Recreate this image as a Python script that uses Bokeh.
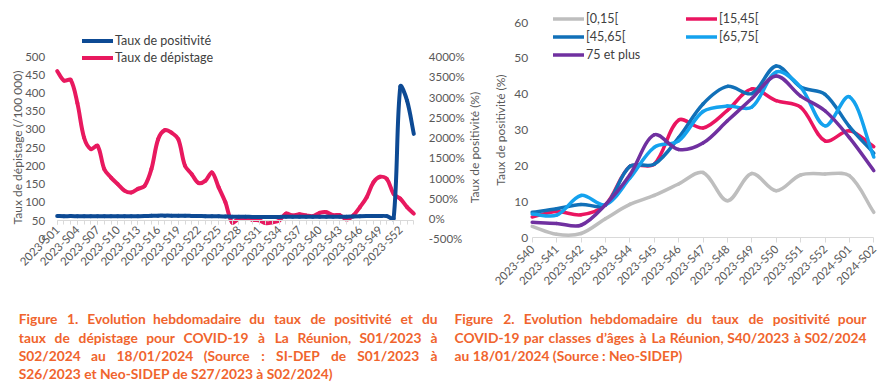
import math
from bokeh.plotting import figure
from bokeh.models import Range1d, LinearAxis, FixedTicker, Legend, LegendItem, Label
from bokeh.layouts import row, column
from bokeh.embed import file_html
from bokeh.resources import INLINE
from bokeh.core.properties import value

FONT = "Lato"
TXT = "#595959"

# ---------------- Figure 1 data ----------------
weeks_fig1 = ["2023-S%02d" % i for i in range(1, 53)] + ["2024-S01", "2024-S02"]
depistage = [460, 434, 436, 372, 277, 246, 255, 191, 168, 150,
             132, 127, 137, 145, 191, 273, 298, 291, 273, 200,
             177, 153, 159, 182, 141, 100, 45, 55, 57, 52,
             51, 43, 45, 50, 69, 64, 67, 64, 62, 71,
             73, 65, 65, 53, 64, 87, 114, 155, 170, 164,
             123, 110, 87, 69]
positivite = [62, 58, 60, 57, 55, 55, 55, 55, 55, 55,
              55, 55, 57, 60, 68, 72, 72, 72, 70, 68,
              65, 62, 58, 55, 55, 50, 45, 45, 45, 40,
              40, 40, 40, 40, 45, 45, 45, 45, 45, 45,
              45, 45, 45, 45, 50, 55, 60, 65, 65, 60,
              0, 3260, 2910, 2090]
dep_ticks = list(range(0, 501, 50))
pos_ticks = list(range(-500, 4001, 500))
pos_tick_labels = ["%d%%" % v for v in pos_ticks]
fig1_series = ["Taux de positivité", "Taux de dépistage"]
fig1_colors = ["#0D4A94", "#E8195F"]

# ---------------- Figure 2 data ----------------
weeks_fig2 = ["2023-S40", "2023-S41", "2023-S42", "2023-S43", "2023-S44", "2023-S45",
              "2023-S46", "2023-S47", "2023-S48", "2023-S49", "2023-S50", "2023-S51",
              "2023-S52", "2024-S01", "2024-S02"]
age_classes = ["[0,15[", "[15,45[", "[45,65[", "[65,75[", "75 et plus"]
pos_0_15 = [3.2, 1.0, 1.2, 5.3, 9.3, 11.8, 15.0, 18.2, 10.3, 17.9, 13.1, 17.5, 17.8, 17.3, 7.1]
pos_15_45 = [5.8, 7.3, 6.4, 9.2, 19.9, 20.5, 32.8, 30.6, 35.5, 41.5, 38.2, 36.4, 27.0, 29.8, 25.4]
pos_45_65 = [7.1, 8.1, 9.3, 9.1, 19.9, 20.5, 27.9, 37.3, 42.2, 40.2, 47.9, 42.0, 40.0, 31.0, 23.6]
pos_65_75 = [6.6, 6.3, 11.8, 9.2, 16.6, 25.2, 27.0, 35.2, 36.7, 36.4, 46.2, 42.0, 31.2, 39.3, 22.5]
pos_75plus = [4.3, 4.0, 3.5, 9.2, 17.5, 28.7, 24.6, 26.4, 32.6, 38.8, 45.1, 39.5, 35.4, 27.9, 18.7]
age_series = [pos_0_15, pos_15_45, pos_45_65, pos_65_75, pos_75plus]
age_colors = ["#BEBEBE", "#EA1560", "#1170B8", "#14A2EE", "#7030A0"]
pos2_ticks = list(range(0, 61, 10))

caption1 = ["Figure 1. Evolution hebdomadaire du taux de positivité et du",
            "taux de dépistage pour COVID-19 à La Réunion, S01/2023 à",
            "S02/2024 au 18/01/2024 (Source : SI-DEP de S01/2023 à",
            "S26/2023 et Neo-SIDEP de S27/2023 à S02/2024)"]
caption2 = ["Figure 2. Evolution hebdomadaire du taux de positivité pour",
            "COVID-19 par classes d’âges à La Réunion, S40/2023 à S02/2024",
            "au 18/01/2024 (Source : Neo-SIDEP)"]
CAP_COLOR = "#F0642D"


def smooth(xs, ys, kx, ky, f=1/3):
    """Bezier segments through the data points (Excel-like smoothed line)."""
    P = [(x * kx, y * ky) for x, y in zip(xs, ys)]
    n = len(P)
    d = [math.hypot(P[i+1][0]-P[i][0], P[i+1][1]-P[i][1]) for i in range(n-1)]
    out = {k: [] for k in ("x0", "y0", "x1", "y1", "cx0", "cy0", "cx1", "cy1")}
    for i in range(n-1):
        p0, p1 = P[i], P[i+1]
        if i > 0:
            pm = P[i-1]
            s = d[i] / (d[i-1] + d[i]) if d[i-1] + d[i] > 0 else 0.5
            c0 = (p0[0] + f*s*(p1[0]-pm[0]), p0[1] + f*s*(p1[1]-pm[1]))
        else:
            c0 = (p0[0] + f*(p1[0]-p0[0]), p0[1] + f*(p1[1]-p0[1]))
        if i + 2 < n:
            p2 = P[i+2]
            s = d[i] / (d[i] + d[i+1]) if d[i] + d[i+1] > 0 else 0.5
            c1 = (p1[0] - f*s*(p2[0]-p0[0]), p1[1] - f*s*(p2[1]-p0[1]))
        else:
            c1 = (p1[0] - f*(p1[0]-p0[0]), p1[1] - f*(p1[1]-p0[1]))
        out["x0"].append(p0[0]/kx); out["y0"].append(p0[1]/ky)
        out["x1"].append(p1[0]/kx); out["y1"].append(p1[1]/ky)
        out["cx0"].append(c0[0]/kx); out["cy0"].append(c0[1]/ky)
        out["cx1"].append(c1[0]/kx); out["cy1"].append(c1[1]/ky)
    return out


def style_axis(ax, size="11.5px"):
    ax.major_label_text_font = FONT
    ax.major_label_text_font_size = size
    ax.major_label_text_color = TXT


def hide_line(ax):
    ax.axis_line_color = None
    ax.major_tick_line_color = None
    ax.minor_tick_line_color = None
    ax.major_tick_out = 0
    ax.major_tick_in = 0
    ax.minor_tick_out = 0
    ax.minor_tick_in = 0


def style_legend(lg):
    lg.glyph_width = 31
    lg.glyph_height = 15
    lg.label_height = 15
    lg.label_standoff = 2
    lg.padding = 0
    lg.margin = 0
    lg.border_line_color = None
    lg.background_fill_alpha = 0
    lg.label_text_font = FONT
    lg.label_text_font_size = "12.5px"
    lg.label_text_color = "#404040"


def axis_title(p, text, x, y):
    p.add_layout(Label(x=x, y=y, text=text, angle=math.pi / 2, text_align="center",
                       text_baseline="middle", text_font=FONT, text_font_size="12px",
                       text_color=TXT))


def new_plot(W, H, xr, yr):
    p = figure(title=None, x_range=xr, y_range=yr, frame_width=W, frame_height=H,
               min_border=0, output_backend="svg", toolbar_location=None, tools="")
    p.frame_align = False
    p.outline_line_color = None
    p.xgrid.visible = False
    p.ygrid.visible = False
    return p


# ---------------- Figure 1 (canvas 485 x 304 at page 0,0) ----------------
W1, H1 = 485, 304
N1 = len(weeks_fig1) - 1
X0PX, X1PX = 56.7, 413.3        # pixel of first / last week
YTOP, YBOT = 56.0, 238.3        # pixel of 500 / 0 on the left scale
kx1 = (X1PX - X0PX) / N1
ky1 = (YBOT - YTOP) / 500
kr1 = (YBOT - YTOP) / 4500
p1 = new_plot(W1, H1,
              Range1d(-X0PX / kx1, N1 + (W1 - X1PX) / kx1),
              Range1d(-(H1 - YBOT) / ky1, 500 + YTOP / ky1))
p1.extra_y_ranges = {"pos": Range1d(-500 - (H1 - YBOT) / kr1, 4000 + YTOP / kr1)}

ya = p1.yaxis[0]
ya.ticker = FixedTicker(ticks=dep_ticks)
ya.fixed_location = 0
hide_line(ya)
ya.major_label_standoff = 12
style_axis(ya)

yr = LinearAxis(y_range_name="pos", ticker=FixedTicker(ticks=pos_ticks),
                major_label_overrides=dict(zip(pos_ticks, pos_tick_labels)))
yr.fixed_location = N1
hide_line(yr)
yr.major_label_standoff = 15
style_axis(yr)
p1.add_layout(yr, "right")

xa = p1.xaxis[0]
xa.ticker = FixedTicker(ticks=list(range(0, len(weeks_fig1), 3)),
                        minor_ticks=list(range(len(weeks_fig1))))
xa.major_label_overrides = {i: w for i, w in enumerate(weeks_fig1)}
xa.major_label_orientation = math.pi / 4
xa.fixed_location = 50
xa.bounds = (0, N1)
xa.axis_line_color = "#D9D9D9"
xa.major_tick_line_color = "#D9D9D9"
xa.minor_tick_line_color = "#D9D9D9"
xa.major_tick_out = 4
xa.major_tick_in = 0
xa.minor_tick_out = 4
xa.minor_tick_in = 0
xa.major_label_standoff = 3
style_axis(xa)

axis_title(p1, "Taux de dépistage (/100 000)", (17 - X0PX) / kx1, (YBOT - 147) / ky1)
axis_title(p1, "Taux de positivité (%)", (474 - X0PX) / kx1, (YBOT - 147) / ky1)

x1 = list(range(len(weeks_fig1)))
seg_dep = smooth(x1, depistage, kx1, ky1)
seg_pos = smooth(x1, positivite, kx1, kr1)
r_dep = p1.bezier(line_color=fig1_colors[1], line_width=4, line_cap="round", **seg_dep)
r_pos = p1.bezier(line_color=fig1_colors[0], line_width=4, line_cap="round",
                  y_range_name="pos", **seg_pos)

lg1 = Legend(items=[LegendItem(label=fig1_series[0], renderers=[r_pos], index=0),
                    LegendItem(label=fig1_series[1], renderers=[r_dep], index=0)],
             location=(82, H1 - 64.5), spacing=2)
style_legend(lg1)
p1.add_layout(lg1)

# ---------------- Figure 2 (canvas 399 x 304 at page 485,0) ----------------
W2, H2 = 399, 304
N2 = len(weeks_fig2) - 1
X0PX2, X1PX2 = 46.7, 388.3
YTOP2, YBOT2 = 22.0, 237.3      # pixel of 60 / 0
kx2 = (X1PX2 - X0PX2) / N2
ky2 = (YBOT2 - YTOP2) / 60
p2 = new_plot(W2, H2,
              Range1d(-X0PX2 / kx2, N2 + (W2 - X1PX2) / kx2),
              Range1d(-(H2 - YBOT2) / ky2, 60 + YTOP2 / ky2))

ya2 = p2.yaxis[0]
ya2.ticker = FixedTicker(ticks=pos2_ticks)
ya2.fixed_location = 0
hide_line(ya2)
ya2.major_label_standoff = 4
style_axis(ya2, "12px")

xa2 = p2.xaxis[0]
xa2.ticker = FixedTicker(ticks=list(range(len(weeks_fig2))))
xa2.major_label_overrides = {i: w for i, w in enumerate(weeks_fig2)}
xa2.major_label_orientation = math.pi / 4
xa2.fixed_location = 0
xa2.bounds = (0, N2)
xa2.axis_line_color = "#D9D9D9"
xa2.major_tick_line_color = "#D9D9D9"
xa2.minor_tick_line_color = None
xa2.major_tick_out = 5
xa2.major_tick_in = 0
xa2.major_label_standoff = 4
style_axis(xa2)

axis_title(p2, "Taux de positivité (%)", (15 - X0PX2) / kx2, (YBOT2 - 129.6) / ky2)

x2 = list(range(len(weeks_fig2)))
age_r = []
for ser, col in zip(age_series, age_colors):
    seg = smooth(x2, ser, kx2, ky2)
    age_r.append(p2.bezier(line_color=col, line_width=3.5, line_cap="round", **seg))

lgA = Legend(items=[LegendItem(label=age_classes[i], renderers=[age_r[i]], index=0) for i in (0, 2, 4)],
             location=(68, H2 - 61.5), spacing=3)
lgB = Legend(items=[LegendItem(label=age_classes[i], renderers=[age_r[i]], index=0) for i in (1, 3)],
             location=(201, H2 - 43.5), spacing=3)
for lg in (lgA, lgB):
    style_legend(lg)
    p2.add_layout(lg)

# ---------------- Captions (canvas 884 x 80 at page 0,304) ----------------
CW, CH = 884, 80
p3 = new_plot(CW, CH, Range1d(0, CW), Range1d(CH, 0))
p3.axis.visible = False

CAP_FS = 13.8
EM = {" ": .25, ".": .25, ",": .25, ":": .25, "/": .37, "(": .31, ")": .31, "-": .36, "’": .22,
      "i": .25, "l": .25, "j": .25, "t": .36, "f": .33, "r": .37, "s": .43, "m": .82, "w": .77,
      "a": .51, "à": .51, "â": .51, "c": .47, "v": .5, "y": .5, "x": .5, "k": .5,
      "I": .29, "S": .53, "E": .57, "F": .55, "P": .6, "L": .48, "R": .62, "V": .68,
      "C": .66, "O": .78, "D": .73, "N": .75, "M": .88}


def est_w(word):
    w = 0
    for ch in word:
        if ch.isdigit():
            w += .58
        elif ch in EM:
            w += EM[ch]
        elif ch.isupper():
            w += .66
        else:
            w += .53
    return w * CAP_FS


def draw_caption(lines, X0, X1, ys):
    L = {"left": ([], [], []), "center": ([], [], []), "right": ([], [], [])}
    for k, (line, y) in enumerate(zip(lines, ys)):
        words = line.split(" ")
        if k == len(lines) - 1:
            L["left"][0].append(X0); L["left"][1].append(y); L["left"][2].append(line)
            continue
        ws = [est_w(w) for w in words]
        gap = (X1 - X0 - sum(ws)) / (len(words) - 1)
        x = X0
        for j, (w, ww) in enumerate(zip(words, ws)):
            if j == 0:
                L["left"][0].append(X0); L["left"][1].append(y); L["left"][2].append(w)
            elif j == len(words) - 1:
                L["right"][0].append(X1); L["right"][1].append(y); L["right"][2].append(w)
            else:
                L["center"][0].append(x + ww / 2); L["center"][1].append(y); L["center"][2].append(w)
            x += ww + gap
    for al, (xs, ys_, ts) in L.items():
        if xs:
            p3.text(x=xs, y=ys_, text=ts, text_align=al, text_baseline="middle",
                    text_font=value(FONT), text_font_size="%.1fpx" % CAP_FS,
                    text_font_style="bold", text_color=CAP_COLOR)


CAP_Y = [14.3, 32.7, 51.0, 69.3]
draw_caption(caption1, 18.3, 437, CAP_Y)
draw_caption(caption2, 454, 866, CAP_Y[:3])

layout = column(row(p1, p2), p3)
open("out.html", "w").write(file_html(layout, INLINE))
